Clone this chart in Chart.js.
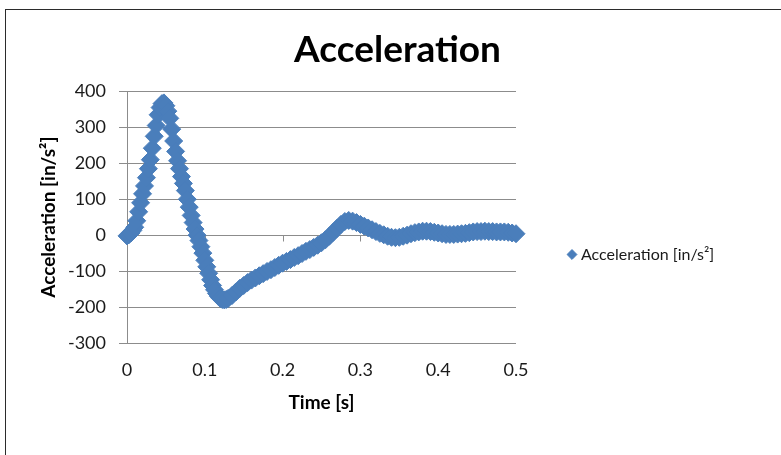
<!DOCTYPE html>
<html><head><meta charset="utf-8">
<script src="https://cdn.jsdelivr.net/npm/chart.js@4/dist/chart.umd.min.js"></script>
<style>
html,body{margin:0;padding:0;background:#fff;overflow:hidden;}
#wrap{position:relative;width:781px;height:455px;overflow:hidden;}
#frame{position:absolute;left:5px;top:9px;width:820px;height:520px;border:1px solid #2b2b2b;box-sizing:border-box;pointer-events:none;}
canvas{position:absolute;left:0;top:0;}
</style></head><body>
<div id="wrap"><canvas id="c" width="781" height="455"></canvas><div id="frame"></div></div>
<script>
const CHART_TITLE = 'Acceleration';
const SERIES_NAME = 'Acceleration [in/s²]';
const X_TITLE = 'Time [s]';
const Y_TITLE = 'Acceleration [in/s²]';
const X_TICKS = [0, 0.1, 0.2, 0.3, 0.4, 0.5];
const Y_TICKS = [-300, -200, -100, 0, 100, 200, 300, 400];

const TIME_S = [
  0.0000, 0.0025, 0.0050, 0.0075, 0.0100, 0.0125, 0.0150, 0.0175, 0.0200, 0.0225,
  0.0250, 0.0275, 0.0300, 0.0325, 0.0350, 0.0375, 0.0400, 0.0425, 0.0450, 0.0475,
  0.0500, 0.0525, 0.0550, 0.0575, 0.0600, 0.0625, 0.0650, 0.0675, 0.0700, 0.0725,
  0.0750, 0.0775, 0.0800, 0.0825, 0.0850, 0.0875, 0.0900, 0.0925, 0.0950, 0.0975,
  0.1000, 0.1025, 0.1050, 0.1075, 0.1100, 0.1125, 0.1150, 0.1175, 0.1200, 0.1225,
  0.1250, 0.1275, 0.1300,
  0.135, 0.140, 0.145, 0.150, 0.155, 0.160, 0.165, 0.170, 0.175, 0.180,
  0.185, 0.190, 0.195, 0.200, 0.205, 0.210, 0.215, 0.220, 0.225, 0.230,
  0.235, 0.240, 0.245, 0.250, 0.255, 0.260, 0.265, 0.270, 0.275, 0.280,
  0.285, 0.290, 0.295, 0.300, 0.305, 0.310, 0.315, 0.320, 0.325, 0.330,
  0.335, 0.340, 0.345, 0.350, 0.355, 0.360, 0.365, 0.370, 0.375, 0.380,
  0.385, 0.390, 0.395, 0.400, 0.405, 0.410, 0.415, 0.420, 0.425, 0.430,
  0.435, 0.440, 0.445, 0.450, 0.455, 0.460, 0.465, 0.470, 0.475, 0.480,
  0.485, 0.490, 0.495, 0.500
];
const ACCEL = [
  -2, 1, 6, 13, 22, 40, 65, 90, 115, 137,
  160, 185, 210, 242, 275, 305, 335, 355, 366, 368,
  360, 345, 325, 295, 262, 233, 207, 185, 163, 144,
  124, 100, 78, 55, 35, 17, 0, -15, -32, -50,
  -70, -88, -106, -124, -140, -152, -162, -170, -176, -179,
  -180, -179, -176,
  -168, -158, -148, -140, -132, -125, -119, -113, -107, -101,
  -96, -90, -84, -78, -73, -68, -62, -57, -51, -45,
  -40, -34, -28, -21, -13, -3, 8, 19, 30, 38,
  41, 39, 35, 30, 25, 20, 15, 10, 5, 1,
  -3, -6, -7, -6, -3, 0, 4, 7, 9, 11,
  11, 10, 8, 6, 4, 2, 2, 2, 3, 4,
  5, 7, 9, 10, 10, 11, 10, 10, 9, 9,
  9, 8, 6, 4
];

const FONT = 'Lato, "Open Sans", "Liberation Sans", sans-serif';
const GRID = '#8c8c8c';
const BLUE = '#4a7ebb';

const points = TIME_S.map((t, i) => ({ x: t, y: ACCEL[i] }));

const zeroTicks = {
  id: 'zeroTicks',
  beforeDatasetsDraw(chart) {
    const { ctx, scales: { x, y } } = chart;
    const y0 = Math.round(y.getPixelForValue(0)) + 0.5;
    ctx.save();
    ctx.strokeStyle = GRID;
    ctx.lineWidth = 1;
    ctx.beginPath();
    X_TICKS.forEach(v => {
      const px = Math.round(x.getPixelForValue(v)) + 0.5;
      ctx.moveTo(px, y0);
      ctx.lineTo(px, y0 + 6);
    });
    ctx.stroke();
    ctx.restore();
  }
};

const legendPlace = {
  id: 'legendPlace',
  afterInit(chart) {
    const lg = chart.legend;
    const fit = lg.fit.bind(lg);
    lg.fit = function () { fit(); this.width = 265; };
  },
  afterLayout(chart) {
    const lg = chart.legend;
    lg.top += 37; lg.bottom += 37;
  }
};

new Chart(document.getElementById('c'), {
  type: 'scatter',
  data: {
    datasets: [{
      label: SERIES_NAME,
      data: points,
      showLine: false,
      pointStyle: 'rectRot',
      pointRadius: 9,
      pointHoverRadius: 9,
      backgroundColor: BLUE,
      borderColor: BLUE,
      borderWidth: 1,
      clip: false
    }]
  },
  options: {
    responsive: false,
    animation: false,
    devicePixelRatio: 1,
    layout: { padding: { left: 14, right: 0, top: 0, bottom: 20 } },
    plugins: {
      title: {
        display: true,
        text: CHART_TITLE,
        color: '#000',
        font: { family: FONT, size: 37, weight: 'bold' },
        padding: { top: 28, bottom: 19 }
      },
      legend: {
        position: 'right',
        align: 'center',
        labels: {
          usePointStyle: true,
          boxWidth: 2,
          boxHeight: 7,
          padding: 55,
          color: '#1a1a1a',
          font: { family: FONT, size: 16 }
        }
      },
      tooltip: { enabled: false }
    },
    scales: {
      x: {
        type: 'linear',
        min: 0, max: 0.5,
        afterBuildTicks: s => { s.ticks = X_TICKS.map(v => ({ value: v })); },
        afterFit: s => { s.height = 92; },
        grid: { display: false, drawTicks: false },
        border: { display: false },
        ticks: { color: '#1a1a1a', padding: 16, font: { family: FONT, size: 18 } },
        title: { display: true, text: X_TITLE, color: '#000', padding: { top: 4, bottom: 21 },
                 font: { family: FONT, size: 19, weight: 'bold' } }
      },
      y: {
        type: 'linear',
        min: -300, max: 400,
        afterBuildTicks: s => { s.ticks = Y_TICKS.map(v => ({ value: v })); },
        afterFit: s => { s.width = 127 - 14; },
        grid: { color: GRID, lineWidth: 1, drawTicks: true, tickLength: 8 },
        border: { display: true, color: GRID, width: 1 },
        ticks: { color: '#1a1a1a', padding: 13, font: { family: FONT, size: 18 } },
        title: { display: true, text: Y_TITLE, color: '#000', padding: { top: 23, bottom: 4 },
                 font: { family: FONT, size: 19, weight: 'bold' } }
      }
    }
  },
  plugins: [zeroTicks, legendPlace]
});
</script>
</body></html>
